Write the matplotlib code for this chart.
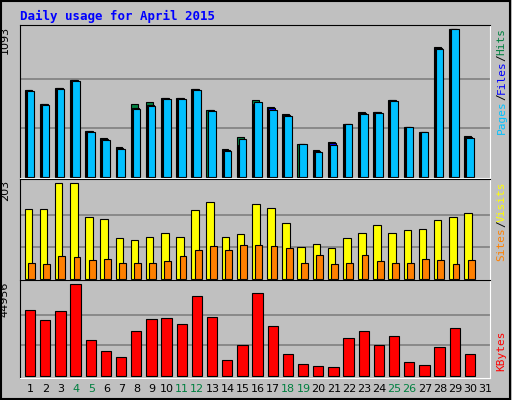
import numpy as np
import matplotlib.pyplot as plt
from matplotlib.patches import Rectangle

days = np.arange(1, 31)
hits = [648, 544, 663, 722, 344, 292, 225, 544, 559, 589, 589, 655, 500, 210, 299,
        574, 522, 470, 247, 203, 262, 396, 485, 485, 574, 373, 336, 960, 1093, 307]
files = [645, 540, 659, 716, 340, 285, 218, 510, 535, 585, 585, 652, 496, 203, 240,
         540, 510, 462, 247, 196, 250, 396, 478, 481, 570, 373, 336, 952, 1093, 300]
pages = [641, 537, 655, 710, 336, 277, 210, 507, 529, 581, 581, 648, 492, 195, 284,
         559, 500, 455, 247, 188, 240, 396, 470, 477, 566, 373, 336, 945, 1093, 292]
visits = [149, 149, 203, 203, 132, 128, 86, 82, 90, 97, 90, 146, 163, 90, 95,
          159, 150, 119, 68, 75, 66, 86, 97, 115, 97, 104, 106, 126, 132, 139]
sites = [33, 31, 49, 46, 40, 42, 33, 35, 35, 38, 49, 62, 71, 62, 73,
         73, 71, 66, 33, 51, 31, 33, 51, 38, 33, 33, 42, 40, 31, 40]
kbytes = [32158, 27236, 31666, 44956, 17391, 11977, 9024, 21821, 27728, 28220,
          25267, 39049, 28712, 7547, 14930, 40525, 24282, 10500, 5578, 4594,
          4102, 18376, 21821, 14930, 19360, 6563, 5086, 13946, 23298, 10500]
weekend = [4, 5, 11, 12, 18, 19, 25, 26]

GREY = '#C0C0C0'
fig = plt.figure(figsize=(5.12, 4.0), dpi=100, facecolor=GREY)
fig.patches.append(Rectangle((0.002, 0.003), 0.994, 0.994, transform=fig.transFigure,
                             fill=False, edgecolor='black', linewidth=1.5))
fig.text(20 / 512, 1 - 16 / 400, 'Daily usage for April 2015', color='#0000FF',
         family='DejaVu Sans Mono', weight='bold', fontsize=9, va='center')


def panel(y0, y1, vmax, ymax, ymin):
    ax = fig.add_axes([20 / 512, 1 - y1 / 400, 470 / 512, (y1 - y0) / 400])
    ax.set_facecolor(GREY)
    ax.set_xlim(0.3, 31.3)
    ax.set_ylim(ymin, ymax)
    for v in (vmax / 3, 2 * vmax / 3):
        ax.axhline(v, color='#808080', linewidth=1.2, zorder=0)
    ax.set_xticks([])
    ax.set_yticks([])
    ax.spines['left'].set_color('black')
    ax.spines['top'].set_color('black')
    ax.spines['right'].set_color('white')
    ax.spines['bottom'].set_color('white')
    ax.text(-0.022, ymax - (ymax - vmax) * 0.3, str(vmax), rotation=90, ha='right',
            va='top', fontsize=8, transform=ax.get_yaxis_transform())
    return ax


ax1 = panel(25, 178, 1093, 1125, -5)
ax1.bar(days - 0.4, hits, width=0.45, align='edge', color='#008040', edgecolor='black', linewidth=0.8)
ax1.bar(days - 0.33, files, width=0.45, align='edge', color='#0000FF', edgecolor='black', linewidth=0.8)
ax1.bar(days - 0.27, pages, width=0.5, align='edge', color='#00C0FF', edgecolor='black', linewidth=0.8)

ax2 = panel(179, 280, 203, 212, -2)
ax2.bar(days - 0.4, visits, width=0.5, align='edge', color='#FFFF00', edgecolor='black', linewidth=0.8)
ax2.bar(days - 0.17, sites, width=0.45, align='edge', color='#FF8000', edgecolor='black', linewidth=0.8)

ax3 = panel(280, 378, 44956, 47070, -1130)
ax3.bar(days - 0.37, kbytes, width=0.68, align='edge', color='#FF0000', edgecolor='black', linewidth=0.8)

# right side legends
def side(ax, parts, y_top):
    x = 1.025
    y = y_top
    for label, col in parts:
        t = ax.text(x, y, label, rotation=90, ha='center', va='top', color=col,
                    family='DejaVu Sans Mono', fontsize=8, transform=ax.transAxes)
        y -= len(label) * 0.043 * (152 / ax.get_position().height / 400)

side(ax1, [('Hits', '#008040'), ('/', 'black'), ('Files', '#0000FF'), ('/', 'black'), ('Pages', '#00C0FF')], 0.98)
side(ax2, [('Visits', '#FFFF00'), ('/', 'black'), ('Sites', '#FF8000')], 0.98)
side(ax3, [('KBytes', '#FF0000')], 0.48)

for d in range(1, 32):
    fig.text((20 + (d - 0.3) * 470 / 31) / 512, 1 - 389 / 400, str(d), ha='center',
             va='center', fontsize=8, color='#008040' if d in weekend else 'black')

fig.savefig('out.png', dpi=100, facecolor=GREY)
